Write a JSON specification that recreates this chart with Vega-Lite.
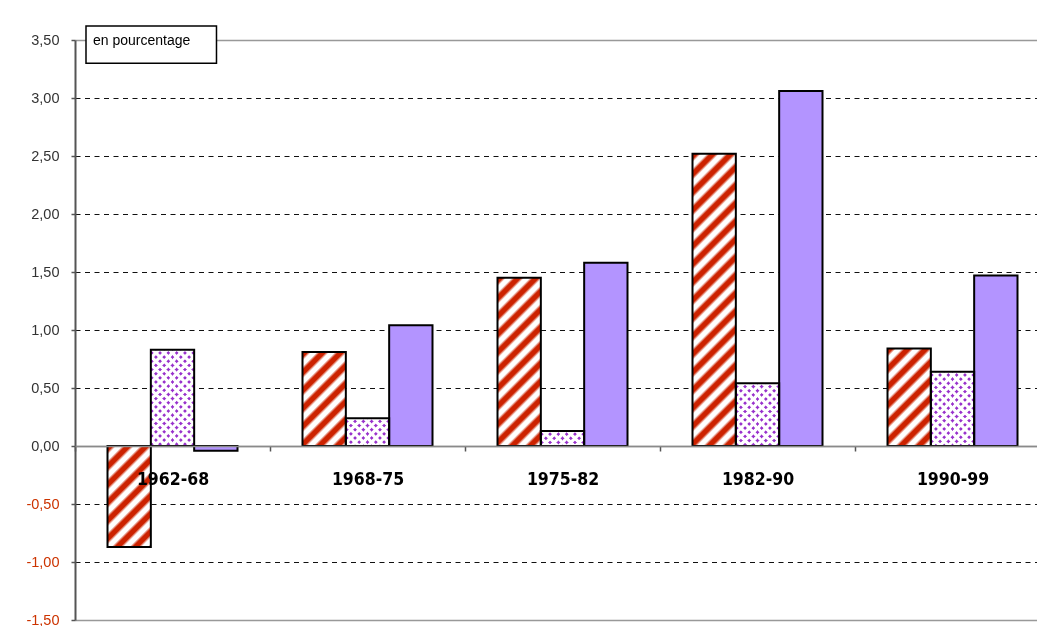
{
  "$schema": "https://vega.github.io/schema/vega-lite/v6.json",
  "width": 962,
  "height": 580,
  "autosize": {"type": "none"},
  "padding": {"left": 75, "top": 40, "right": 0, "bottom": 6},
  "background": "white",
  "config": {"view": {"stroke": null}},
  "data": {
    "values": [
      {"period": "1962-68", "series": "série 1", "value": -0.87},
      {"period": "1962-68", "series": "série 2", "value": 0.83},
      {"period": "1962-68", "series": "série 3", "value": -0.04},
      {"period": "1968-75", "series": "série 1", "value": 0.81},
      {"period": "1968-75", "series": "série 2", "value": 0.24},
      {"period": "1968-75", "series": "série 3", "value": 1.04},
      {"period": "1975-82", "series": "série 1", "value": 1.45},
      {"period": "1975-82", "series": "série 2", "value": 0.13},
      {"period": "1975-82", "series": "série 3", "value": 1.58},
      {"period": "1982-90", "series": "série 1", "value": 2.52},
      {"period": "1982-90", "series": "série 2", "value": 0.54},
      {"period": "1982-90", "series": "série 3", "value": 3.06},
      {"period": "1990-99", "series": "série 1", "value": 0.84},
      {"period": "1990-99", "series": "série 2", "value": 0.64},
      {"period": "1990-99", "series": "série 3", "value": 1.47}
    ]
  },
  "layer": [
    {
      "mark": {"type": "bar"},
      "encoding": {
        "x": {
          "field": "period", "type": "nominal",
          "scale": {"paddingInner": 0, "paddingOuter": 0, "range": [0, 975]},
          "axis": {
            "orient": "bottom", "offset": -174, "title": null, "labelAngle": 0,
            "domainColor": "#8a8a8a", "domainWidth": 1.5,
            "tickBand": "extent", "tickSize": 5, "tickColor": "#555", "tickWidth": 1.5,
            "labelFont": "DejaVu Sans Condensed, Liberation Sans", "labelFontSize": 17.5, "labelFontWeight": "bold",
            "labelColor": "#000", "labelPadding": 19, "grid": false, "zindex": 1
          }
        },
        "xOffset": {"field": "series", "type": "nominal", "scale": {"paddingInner": 0, "paddingOuter": 0.75}},
        "y": {
          "field": "value", "type": "quantitative",
          "scale": {"domain": [-1.5, 3.5], "nice": false},
          "axis": {
            "title": null,
            "values": [-1.5, -1, -0.5, 0, 0.5, 1, 1.5, 2, 2.5, 3, 3.5],
            "labelExpr": "replace(replace(format(datum.value, '.2f'), '.', ','), '\u2212', '-')",
            "labelFont": "Liberation Sans", "labelFontSize": 14.5,
            "labelColor": {"condition": {"test": "datum.value < 0", "value": "#CC3300"}, "value": "#333333"},
            "labelPadding": 12,
            "domainColor": "#555", "domainWidth": 2,
            "tickColor": "#555", "tickSize": 4, "tickWidth": 1.5,
            "grid": true,
            "gridColor": {"condition": {"test": "datum.value === 3.5 || datum.value === -1.5 || datum.value === 0", "value": "#999"}, "value": "#111"},
            "gridDash": {"condition": {"test": "datum.value === 3.5 || datum.value === -1.5 || datum.value === 0", "value": []}, "value": [5, 4.5]},
            "gridWidth": {"condition": {"test": "datum.value === 3.5 || datum.value === -1.5 || datum.value === 0", "value": 1.5}, "value": 1}
          }
        },
        "fill": {
          "condition": [
            {"test": "datum.series === 'série 3'", "value": "#B394FF"},
            {"test": "datum.series === 'série 2' && datum.period === '1962-68'", "value": {"gradient": "linear", "x1": 0, "y1": 0, "x2": 0.5483, "y2": 1.2185, "stops": [
              {"offset": 0.0118, "color": "#fff"}, {"offset": 0.0206, "color": "#93c"}, {"offset": 0.0382, "color": "#93c"}, {"offset": 0.0471, "color": "#fff"},
              {"offset": 0.0706, "color": "#fff"}, {"offset": 0.0794, "color": "#93c"}, {"offset": 0.0971, "color": "#93c"}, {"offset": 0.1059, "color": "#fff"},
              {"offset": 0.1294, "color": "#fff"}, {"offset": 0.1382, "color": "#93c"}, {"offset": 0.1559, "color": "#93c"}, {"offset": 0.1647, "color": "#fff"},
              {"offset": 0.1882, "color": "#fff"}, {"offset": 0.1971, "color": "#93c"}, {"offset": 0.2147, "color": "#93c"}, {"offset": 0.2235, "color": "#fff"},
              {"offset": 0.2471, "color": "#fff"}, {"offset": 0.2559, "color": "#93c"}, {"offset": 0.2735, "color": "#93c"}, {"offset": 0.2824, "color": "#fff"},
              {"offset": 0.3059, "color": "#fff"}, {"offset": 0.3147, "color": "#93c"}, {"offset": 0.3324, "color": "#93c"}, {"offset": 0.3412, "color": "#fff"},
              {"offset": 0.3647, "color": "#fff"}, {"offset": 0.3735, "color": "#93c"}, {"offset": 0.3912, "color": "#93c"}, {"offset": 0.4, "color": "#fff"},
              {"offset": 0.4235, "color": "#fff"}, {"offset": 0.4324, "color": "#93c"}, {"offset": 0.45, "color": "#93c"}, {"offset": 0.4588, "color": "#fff"},
              {"offset": 0.4824, "color": "#fff"}, {"offset": 0.4912, "color": "#93c"}, {"offset": 0.5088, "color": "#93c"}, {"offset": 0.5176, "color": "#fff"},
              {"offset": 0.5412, "color": "#fff"}, {"offset": 0.55, "color": "#93c"}, {"offset": 0.5676, "color": "#93c"}, {"offset": 0.5765, "color": "#fff"},
              {"offset": 0.6, "color": "#fff"}, {"offset": 0.6088, "color": "#93c"}, {"offset": 0.6265, "color": "#93c"}, {"offset": 0.6353, "color": "#fff"},
              {"offset": 0.6588, "color": "#fff"}, {"offset": 0.6676, "color": "#93c"}, {"offset": 0.6853, "color": "#93c"}, {"offset": 0.6941, "color": "#fff"},
              {"offset": 0.7176, "color": "#fff"}, {"offset": 0.7265, "color": "#93c"}, {"offset": 0.7441, "color": "#93c"}, {"offset": 0.7529, "color": "#fff"},
              {"offset": 0.7765, "color": "#fff"}, {"offset": 0.7853, "color": "#93c"}, {"offset": 0.8029, "color": "#93c"}, {"offset": 0.8118, "color": "#fff"},
              {"offset": 0.8353, "color": "#fff"}, {"offset": 0.8441, "color": "#93c"}, {"offset": 0.8618, "color": "#93c"}, {"offset": 0.8706, "color": "#fff"},
              {"offset": 0.8941, "color": "#fff"}, {"offset": 0.9029, "color": "#93c"}, {"offset": 0.9206, "color": "#93c"}, {"offset": 0.9294, "color": "#fff"},
              {"offset": 0.9529, "color": "#fff"}, {"offset": 0.9618, "color": "#93c"}, {"offset": 0.9794, "color": "#93c"}, {"offset": 0.9882, "color": "#fff"}
            ]}},
            {"test": "datum.series === 'série 2' && datum.period === '1968-75'", "value": {"gradient": "linear", "x1": 0, "y1": 0, "x2": 1.2202, "y2": 0.784, "stops": [
              {"offset": 0.0222, "color": "#fff"}, {"offset": 0.0389, "color": "#93c"}, {"offset": 0.0722, "color": "#93c"}, {"offset": 0.0889, "color": "#fff"},
              {"offset": 0.1333, "color": "#fff"}, {"offset": 0.15, "color": "#93c"}, {"offset": 0.1833, "color": "#93c"}, {"offset": 0.2, "color": "#fff"},
              {"offset": 0.2444, "color": "#fff"}, {"offset": 0.2611, "color": "#93c"}, {"offset": 0.2944, "color": "#93c"}, {"offset": 0.3111, "color": "#fff"},
              {"offset": 0.3556, "color": "#fff"}, {"offset": 0.3722, "color": "#93c"}, {"offset": 0.4056, "color": "#93c"}, {"offset": 0.4222, "color": "#fff"},
              {"offset": 0.4667, "color": "#fff"}, {"offset": 0.4833, "color": "#93c"}, {"offset": 0.5167, "color": "#93c"}, {"offset": 0.5333, "color": "#fff"},
              {"offset": 0.5778, "color": "#fff"}, {"offset": 0.5944, "color": "#93c"}, {"offset": 0.6278, "color": "#93c"}, {"offset": 0.6444, "color": "#fff"},
              {"offset": 0.6889, "color": "#fff"}, {"offset": 0.7056, "color": "#93c"}, {"offset": 0.7389, "color": "#93c"}, {"offset": 0.7556, "color": "#fff"},
              {"offset": 0.8, "color": "#fff"}, {"offset": 0.8167, "color": "#93c"}, {"offset": 0.85, "color": "#93c"}, {"offset": 0.8667, "color": "#fff"},
              {"offset": 0.9111, "color": "#fff"}, {"offset": 0.9278, "color": "#93c"}, {"offset": 0.9611, "color": "#93c"}, {"offset": 0.9778, "color": "#fff"}
            ]}},
            {"test": "datum.series === 'série 2' && datum.period === '1975-82'", "value": {"gradient": "linear", "x1": 0, "y1": 0, "x2": 1.3669, "y2": 0.4757, "stops": [
              {"offset": 0.025, "color": "#fff"}, {"offset": 0.0438, "color": "#93c"}, {"offset": 0.0813, "color": "#93c"}, {"offset": 0.1, "color": "#fff"},
              {"offset": 0.15, "color": "#fff"}, {"offset": 0.1688, "color": "#93c"}, {"offset": 0.2063, "color": "#93c"}, {"offset": 0.225, "color": "#fff"},
              {"offset": 0.275, "color": "#fff"}, {"offset": 0.2938, "color": "#93c"}, {"offset": 0.3313, "color": "#93c"}, {"offset": 0.35, "color": "#fff"},
              {"offset": 0.4, "color": "#fff"}, {"offset": 0.4188, "color": "#93c"}, {"offset": 0.4563, "color": "#93c"}, {"offset": 0.475, "color": "#fff"},
              {"offset": 0.525, "color": "#fff"}, {"offset": 0.5438, "color": "#93c"}, {"offset": 0.5813, "color": "#93c"}, {"offset": 0.6, "color": "#fff"},
              {"offset": 0.65, "color": "#fff"}, {"offset": 0.6688, "color": "#93c"}, {"offset": 0.7063, "color": "#93c"}, {"offset": 0.725, "color": "#fff"},
              {"offset": 0.775, "color": "#fff"}, {"offset": 0.7938, "color": "#93c"}, {"offset": 0.8313, "color": "#93c"}, {"offset": 0.85, "color": "#fff"},
              {"offset": 0.9, "color": "#fff"}, {"offset": 0.9188, "color": "#93c"}, {"offset": 0.9563, "color": "#93c"}, {"offset": 0.975, "color": "#fff"}
            ]}},
            {"test": "datum.series === 'série 2' && datum.period === '1982-90'", "value": {"gradient": "linear", "x1": 0, "y1": 0, "x2": 0.8059, "y2": 1.165, "stops": [
              {"offset": 0.0154, "color": "#fff"}, {"offset": 0.0269, "color": "#93c"}, {"offset": 0.05, "color": "#93c"}, {"offset": 0.0615, "color": "#fff"},
              {"offset": 0.0923, "color": "#fff"}, {"offset": 0.1038, "color": "#93c"}, {"offset": 0.1269, "color": "#93c"}, {"offset": 0.1385, "color": "#fff"},
              {"offset": 0.1692, "color": "#fff"}, {"offset": 0.1808, "color": "#93c"}, {"offset": 0.2038, "color": "#93c"}, {"offset": 0.2154, "color": "#fff"},
              {"offset": 0.2462, "color": "#fff"}, {"offset": 0.2577, "color": "#93c"}, {"offset": 0.2808, "color": "#93c"}, {"offset": 0.2923, "color": "#fff"},
              {"offset": 0.3231, "color": "#fff"}, {"offset": 0.3346, "color": "#93c"}, {"offset": 0.3577, "color": "#93c"}, {"offset": 0.3692, "color": "#fff"},
              {"offset": 0.4, "color": "#fff"}, {"offset": 0.4115, "color": "#93c"}, {"offset": 0.4346, "color": "#93c"}, {"offset": 0.4462, "color": "#fff"},
              {"offset": 0.4769, "color": "#fff"}, {"offset": 0.4885, "color": "#93c"}, {"offset": 0.5115, "color": "#93c"}, {"offset": 0.5231, "color": "#fff"},
              {"offset": 0.5538, "color": "#fff"}, {"offset": 0.5654, "color": "#93c"}, {"offset": 0.5885, "color": "#93c"}, {"offset": 0.6, "color": "#fff"},
              {"offset": 0.6308, "color": "#fff"}, {"offset": 0.6423, "color": "#93c"}, {"offset": 0.6654, "color": "#93c"}, {"offset": 0.6769, "color": "#fff"},
              {"offset": 0.7077, "color": "#fff"}, {"offset": 0.7192, "color": "#93c"}, {"offset": 0.7423, "color": "#93c"}, {"offset": 0.7538, "color": "#fff"},
              {"offset": 0.7846, "color": "#fff"}, {"offset": 0.7962, "color": "#93c"}, {"offset": 0.8192, "color": "#93c"}, {"offset": 0.8308, "color": "#fff"},
              {"offset": 0.8615, "color": "#fff"}, {"offset": 0.8731, "color": "#93c"}, {"offset": 0.8962, "color": "#93c"}, {"offset": 0.9077, "color": "#fff"},
              {"offset": 0.9385, "color": "#fff"}, {"offset": 0.95, "color": "#93c"}, {"offset": 0.9731, "color": "#93c"}, {"offset": 0.9846, "color": "#fff"}
            ]}},
            {"test": "datum.series === 'série 2'", "value": {"gradient": "linear", "x1": 0, "y1": 0, "x2": 0.7301, "y2": 1.2509, "stops": [
              {"offset": 0.0133, "color": "#fff"}, {"offset": 0.0233, "color": "#93c"}, {"offset": 0.0433, "color": "#93c"}, {"offset": 0.0533, "color": "#fff"},
              {"offset": 0.08, "color": "#fff"}, {"offset": 0.09, "color": "#93c"}, {"offset": 0.11, "color": "#93c"}, {"offset": 0.12, "color": "#fff"},
              {"offset": 0.1467, "color": "#fff"}, {"offset": 0.1567, "color": "#93c"}, {"offset": 0.1767, "color": "#93c"}, {"offset": 0.1867, "color": "#fff"},
              {"offset": 0.2133, "color": "#fff"}, {"offset": 0.2233, "color": "#93c"}, {"offset": 0.2433, "color": "#93c"}, {"offset": 0.2533, "color": "#fff"},
              {"offset": 0.28, "color": "#fff"}, {"offset": 0.29, "color": "#93c"}, {"offset": 0.31, "color": "#93c"}, {"offset": 0.32, "color": "#fff"},
              {"offset": 0.3467, "color": "#fff"}, {"offset": 0.3567, "color": "#93c"}, {"offset": 0.3767, "color": "#93c"}, {"offset": 0.3867, "color": "#fff"},
              {"offset": 0.4133, "color": "#fff"}, {"offset": 0.4233, "color": "#93c"}, {"offset": 0.4433, "color": "#93c"}, {"offset": 0.4533, "color": "#fff"},
              {"offset": 0.48, "color": "#fff"}, {"offset": 0.49, "color": "#93c"}, {"offset": 0.51, "color": "#93c"}, {"offset": 0.52, "color": "#fff"},
              {"offset": 0.5467, "color": "#fff"}, {"offset": 0.5567, "color": "#93c"}, {"offset": 0.5767, "color": "#93c"}, {"offset": 0.5867, "color": "#fff"},
              {"offset": 0.6133, "color": "#fff"}, {"offset": 0.6233, "color": "#93c"}, {"offset": 0.6433, "color": "#93c"}, {"offset": 0.6533, "color": "#fff"},
              {"offset": 0.68, "color": "#fff"}, {"offset": 0.69, "color": "#93c"}, {"offset": 0.71, "color": "#93c"}, {"offset": 0.72, "color": "#fff"},
              {"offset": 0.7467, "color": "#fff"}, {"offset": 0.7567, "color": "#93c"}, {"offset": 0.7767, "color": "#93c"}, {"offset": 0.7867, "color": "#fff"},
              {"offset": 0.8133, "color": "#fff"}, {"offset": 0.8233, "color": "#93c"}, {"offset": 0.8433, "color": "#93c"}, {"offset": 0.8533, "color": "#fff"},
              {"offset": 0.88, "color": "#fff"}, {"offset": 0.89, "color": "#93c"}, {"offset": 0.91, "color": "#93c"}, {"offset": 0.92, "color": "#fff"},
              {"offset": 0.9467, "color": "#fff"}, {"offset": 0.9567, "color": "#93c"}, {"offset": 0.9767, "color": "#93c"}, {"offset": 0.9867, "color": "#fff"}
            ]}},
            {"test": "datum.period === '1962-68'", "value": {"gradient": "linear", "x1": 0, "y1": 0, "x2": 0.5821, "y2": 1.3556, "stops": [
              {"offset": 0, "color": "#c20"}, {"offset": 0.0333, "color": "#c20"}, {"offset": 0.0556, "color": "#fff"}, {"offset": 0.0889, "color": "#fff"},
              {"offset": 0.1111, "color": "#c20"}, {"offset": 0.1444, "color": "#c20"}, {"offset": 0.1667, "color": "#fff"}, {"offset": 0.2, "color": "#fff"},
              {"offset": 0.2222, "color": "#c20"}, {"offset": 0.2556, "color": "#c20"}, {"offset": 0.2778, "color": "#fff"}, {"offset": 0.3111, "color": "#fff"},
              {"offset": 0.3333, "color": "#c20"}, {"offset": 0.3667, "color": "#c20"}, {"offset": 0.3889, "color": "#fff"}, {"offset": 0.4222, "color": "#fff"},
              {"offset": 0.4444, "color": "#c20"}, {"offset": 0.4778, "color": "#c20"}, {"offset": 0.5, "color": "#fff"}, {"offset": 0.5333, "color": "#fff"},
              {"offset": 0.5556, "color": "#c20"}, {"offset": 0.5889, "color": "#c20"}, {"offset": 0.6111, "color": "#fff"}, {"offset": 0.6444, "color": "#fff"},
              {"offset": 0.6667, "color": "#c20"}, {"offset": 0.7, "color": "#c20"}, {"offset": 0.7222, "color": "#fff"}, {"offset": 0.7556, "color": "#fff"},
              {"offset": 0.7778, "color": "#c20"}, {"offset": 0.8111, "color": "#c20"}, {"offset": 0.8333, "color": "#fff"}, {"offset": 0.8667, "color": "#fff"},
              {"offset": 0.8889, "color": "#c20"}, {"offset": 0.9222, "color": "#c20"}, {"offset": 0.9444, "color": "#fff"}, {"offset": 0.9778, "color": "#fff"},
              {"offset": 1, "color": "#c20"}
            ]}},
            {"test": "datum.period === '1968-75'", "value": {"gradient": "linear", "x1": 0, "y1": 0, "x2": 0.5824, "y2": 1.2634, "stops": [
              {"offset": 0, "color": "#c20"}, {"offset": 0.0375, "color": "#c20"}, {"offset": 0.0625, "color": "#fff"}, {"offset": 0.1, "color": "#fff"},
              {"offset": 0.125, "color": "#c20"}, {"offset": 0.1625, "color": "#c20"}, {"offset": 0.1875, "color": "#fff"}, {"offset": 0.225, "color": "#fff"},
              {"offset": 0.25, "color": "#c20"}, {"offset": 0.2875, "color": "#c20"}, {"offset": 0.3125, "color": "#fff"}, {"offset": 0.35, "color": "#fff"},
              {"offset": 0.375, "color": "#c20"}, {"offset": 0.4125, "color": "#c20"}, {"offset": 0.4375, "color": "#fff"}, {"offset": 0.475, "color": "#fff"},
              {"offset": 0.5, "color": "#c20"}, {"offset": 0.5375, "color": "#c20"}, {"offset": 0.5625, "color": "#fff"}, {"offset": 0.6, "color": "#fff"},
              {"offset": 0.625, "color": "#c20"}, {"offset": 0.6625, "color": "#c20"}, {"offset": 0.6875, "color": "#fff"}, {"offset": 0.725, "color": "#fff"},
              {"offset": 0.75, "color": "#c20"}, {"offset": 0.7875, "color": "#c20"}, {"offset": 0.8125, "color": "#fff"}, {"offset": 0.85, "color": "#fff"},
              {"offset": 0.875, "color": "#c20"}, {"offset": 0.9125, "color": "#c20"}, {"offset": 0.9375, "color": "#fff"}, {"offset": 0.975, "color": "#fff"},
              {"offset": 1, "color": "#c20"}
            ]}},
            {"test": "datum.period === '1975-82'", "value": {"gradient": "linear", "x1": 0, "y1": 0, "x2": 0.3102, "y2": 1.2043, "stops": [
              {"offset": 0, "color": "#c20"}, {"offset": 0.025, "color": "#c20"}, {"offset": 0.0417, "color": "#fff"}, {"offset": 0.0667, "color": "#fff"},
              {"offset": 0.0833, "color": "#c20"}, {"offset": 0.1083, "color": "#c20"}, {"offset": 0.125, "color": "#fff"}, {"offset": 0.15, "color": "#fff"},
              {"offset": 0.1667, "color": "#c20"}, {"offset": 0.1917, "color": "#c20"}, {"offset": 0.2083, "color": "#fff"}, {"offset": 0.2333, "color": "#fff"},
              {"offset": 0.25, "color": "#c20"}, {"offset": 0.275, "color": "#c20"}, {"offset": 0.2917, "color": "#fff"}, {"offset": 0.3167, "color": "#fff"},
              {"offset": 0.3333, "color": "#c20"}, {"offset": 0.3583, "color": "#c20"}, {"offset": 0.375, "color": "#fff"}, {"offset": 0.4, "color": "#fff"},
              {"offset": 0.4167, "color": "#c20"}, {"offset": 0.4417, "color": "#c20"}, {"offset": 0.4583, "color": "#fff"}, {"offset": 0.4833, "color": "#fff"},
              {"offset": 0.5, "color": "#c20"}, {"offset": 0.525, "color": "#c20"}, {"offset": 0.5417, "color": "#fff"}, {"offset": 0.5667, "color": "#fff"},
              {"offset": 0.5833, "color": "#c20"}, {"offset": 0.6083, "color": "#c20"}, {"offset": 0.625, "color": "#fff"}, {"offset": 0.65, "color": "#fff"},
              {"offset": 0.6667, "color": "#c20"}, {"offset": 0.6917, "color": "#c20"}, {"offset": 0.7083, "color": "#fff"}, {"offset": 0.7333, "color": "#fff"},
              {"offset": 0.75, "color": "#c20"}, {"offset": 0.775, "color": "#c20"}, {"offset": 0.7917, "color": "#fff"}, {"offset": 0.8167, "color": "#fff"},
              {"offset": 0.8333, "color": "#c20"}, {"offset": 0.8583, "color": "#c20"}, {"offset": 0.875, "color": "#fff"}, {"offset": 0.9, "color": "#fff"},
              {"offset": 0.9167, "color": "#c20"}, {"offset": 0.9417, "color": "#c20"}, {"offset": 0.9583, "color": "#fff"}, {"offset": 0.9833, "color": "#fff"},
              {"offset": 1, "color": "#c20"}
            ]}},
            {"test": "datum.period === '1982-90'", "value": {"gradient": "linear", "x1": 0, "y1": 0, "x2": 0.1697, "y2": 1.1449, "stops": [
              {"offset": 0, "color": "#c20"}, {"offset": 0.0158, "color": "#c20"}, {"offset": 0.0263, "color": "#fff"}, {"offset": 0.0421, "color": "#fff"},
              {"offset": 0.0526, "color": "#c20"}, {"offset": 0.0684, "color": "#c20"}, {"offset": 0.0789, "color": "#fff"}, {"offset": 0.0947, "color": "#fff"},
              {"offset": 0.1053, "color": "#c20"}, {"offset": 0.1211, "color": "#c20"}, {"offset": 0.1316, "color": "#fff"}, {"offset": 0.1474, "color": "#fff"},
              {"offset": 0.1579, "color": "#c20"}, {"offset": 0.1737, "color": "#c20"}, {"offset": 0.1842, "color": "#fff"}, {"offset": 0.2, "color": "#fff"},
              {"offset": 0.2105, "color": "#c20"}, {"offset": 0.2263, "color": "#c20"}, {"offset": 0.2368, "color": "#fff"}, {"offset": 0.2526, "color": "#fff"},
              {"offset": 0.2632, "color": "#c20"}, {"offset": 0.2789, "color": "#c20"}, {"offset": 0.2895, "color": "#fff"}, {"offset": 0.3053, "color": "#fff"},
              {"offset": 0.3158, "color": "#c20"}, {"offset": 0.3316, "color": "#c20"}, {"offset": 0.3421, "color": "#fff"}, {"offset": 0.3579, "color": "#fff"},
              {"offset": 0.3684, "color": "#c20"}, {"offset": 0.3842, "color": "#c20"}, {"offset": 0.3947, "color": "#fff"}, {"offset": 0.4105, "color": "#fff"},
              {"offset": 0.4211, "color": "#c20"}, {"offset": 0.4368, "color": "#c20"}, {"offset": 0.4474, "color": "#fff"}, {"offset": 0.4632, "color": "#fff"},
              {"offset": 0.4737, "color": "#c20"}, {"offset": 0.4895, "color": "#c20"}, {"offset": 0.5, "color": "#fff"}, {"offset": 0.5158, "color": "#fff"},
              {"offset": 0.5263, "color": "#c20"}, {"offset": 0.5421, "color": "#c20"}, {"offset": 0.5526, "color": "#fff"}, {"offset": 0.5684, "color": "#fff"},
              {"offset": 0.5789, "color": "#c20"}, {"offset": 0.5947, "color": "#c20"}, {"offset": 0.6053, "color": "#fff"}, {"offset": 0.6211, "color": "#fff"},
              {"offset": 0.6316, "color": "#c20"}, {"offset": 0.6474, "color": "#c20"}, {"offset": 0.6579, "color": "#fff"}, {"offset": 0.6737, "color": "#fff"},
              {"offset": 0.6842, "color": "#c20"}, {"offset": 0.7, "color": "#c20"}, {"offset": 0.7105, "color": "#fff"}, {"offset": 0.7263, "color": "#fff"},
              {"offset": 0.7368, "color": "#c20"}, {"offset": 0.7526, "color": "#c20"}, {"offset": 0.7632, "color": "#fff"}, {"offset": 0.7789, "color": "#fff"},
              {"offset": 0.7895, "color": "#c20"}, {"offset": 0.8053, "color": "#c20"}, {"offset": 0.8158, "color": "#fff"}, {"offset": 0.8316, "color": "#fff"},
              {"offset": 0.8421, "color": "#c20"}, {"offset": 0.8579, "color": "#c20"}, {"offset": 0.8684, "color": "#fff"}, {"offset": 0.8842, "color": "#fff"},
              {"offset": 0.8947, "color": "#c20"}, {"offset": 0.9105, "color": "#c20"}, {"offset": 0.9211, "color": "#fff"}, {"offset": 0.9368, "color": "#fff"},
              {"offset": 0.9474, "color": "#c20"}, {"offset": 0.9632, "color": "#c20"}, {"offset": 0.9737, "color": "#fff"}, {"offset": 0.9895, "color": "#fff"},
              {"offset": 1, "color": "#c20"}
            ]}}
          ],
          "value": {"gradient": "linear", "x1": 0, "y1": 0, "x2": 0.549, "y2": 1.2342, "stops": [
            {"offset": 0, "color": "#c20"}, {"offset": 0.0375, "color": "#c20"}, {"offset": 0.0625, "color": "#fff"}, {"offset": 0.1, "color": "#fff"},
            {"offset": 0.125, "color": "#c20"}, {"offset": 0.1625, "color": "#c20"}, {"offset": 0.1875, "color": "#fff"}, {"offset": 0.225, "color": "#fff"},
            {"offset": 0.25, "color": "#c20"}, {"offset": 0.2875, "color": "#c20"}, {"offset": 0.3125, "color": "#fff"}, {"offset": 0.35, "color": "#fff"},
            {"offset": 0.375, "color": "#c20"}, {"offset": 0.4125, "color": "#c20"}, {"offset": 0.4375, "color": "#fff"}, {"offset": 0.475, "color": "#fff"},
            {"offset": 0.5, "color": "#c20"}, {"offset": 0.5375, "color": "#c20"}, {"offset": 0.5625, "color": "#fff"}, {"offset": 0.6, "color": "#fff"},
            {"offset": 0.625, "color": "#c20"}, {"offset": 0.6625, "color": "#c20"}, {"offset": 0.6875, "color": "#fff"}, {"offset": 0.725, "color": "#fff"},
            {"offset": 0.75, "color": "#c20"}, {"offset": 0.7875, "color": "#c20"}, {"offset": 0.8125, "color": "#fff"}, {"offset": 0.85, "color": "#fff"},
            {"offset": 0.875, "color": "#c20"}, {"offset": 0.9125, "color": "#c20"}, {"offset": 0.9375, "color": "#fff"}, {"offset": 0.975, "color": "#fff"},
            {"offset": 1, "color": "#c20"}
          ]}
        }
      }
    },
    {
      "transform": [{"filter": "datum.series === 'série 2'"}],
      "mark": {"type": "bar", "blend": "lighten"},
      "encoding": {
        "x": {"field": "period", "type": "nominal"},
        "xOffset": {"field": "series", "type": "nominal"},
        "y": {"field": "value", "type": "quantitative"},
        "fill": {
          "condition": [
            {"test": "datum.period === '1962-68'", "value": {"gradient": "linear", "x1": 1, "y1": 0, "x2": 0.4517, "y2": 1.2185, "stops": [
              {"offset": 0.0118, "color": "#fff"}, {"offset": 0.0206, "color": "#93c"}, {"offset": 0.0382, "color": "#93c"}, {"offset": 0.0471, "color": "#fff"},
              {"offset": 0.0706, "color": "#fff"}, {"offset": 0.0794, "color": "#93c"}, {"offset": 0.0971, "color": "#93c"}, {"offset": 0.1059, "color": "#fff"},
              {"offset": 0.1294, "color": "#fff"}, {"offset": 0.1382, "color": "#93c"}, {"offset": 0.1559, "color": "#93c"}, {"offset": 0.1647, "color": "#fff"},
              {"offset": 0.1882, "color": "#fff"}, {"offset": 0.1971, "color": "#93c"}, {"offset": 0.2147, "color": "#93c"}, {"offset": 0.2235, "color": "#fff"},
              {"offset": 0.2471, "color": "#fff"}, {"offset": 0.2559, "color": "#93c"}, {"offset": 0.2735, "color": "#93c"}, {"offset": 0.2824, "color": "#fff"},
              {"offset": 0.3059, "color": "#fff"}, {"offset": 0.3147, "color": "#93c"}, {"offset": 0.3324, "color": "#93c"}, {"offset": 0.3412, "color": "#fff"},
              {"offset": 0.3647, "color": "#fff"}, {"offset": 0.3735, "color": "#93c"}, {"offset": 0.3912, "color": "#93c"}, {"offset": 0.4, "color": "#fff"},
              {"offset": 0.4235, "color": "#fff"}, {"offset": 0.4324, "color": "#93c"}, {"offset": 0.45, "color": "#93c"}, {"offset": 0.4588, "color": "#fff"},
              {"offset": 0.4824, "color": "#fff"}, {"offset": 0.4912, "color": "#93c"}, {"offset": 0.5088, "color": "#93c"}, {"offset": 0.5176, "color": "#fff"},
              {"offset": 0.5412, "color": "#fff"}, {"offset": 0.55, "color": "#93c"}, {"offset": 0.5676, "color": "#93c"}, {"offset": 0.5765, "color": "#fff"},
              {"offset": 0.6, "color": "#fff"}, {"offset": 0.6088, "color": "#93c"}, {"offset": 0.6265, "color": "#93c"}, {"offset": 0.6353, "color": "#fff"},
              {"offset": 0.6588, "color": "#fff"}, {"offset": 0.6676, "color": "#93c"}, {"offset": 0.6853, "color": "#93c"}, {"offset": 0.6941, "color": "#fff"},
              {"offset": 0.7176, "color": "#fff"}, {"offset": 0.7265, "color": "#93c"}, {"offset": 0.7441, "color": "#93c"}, {"offset": 0.7529, "color": "#fff"},
              {"offset": 0.7765, "color": "#fff"}, {"offset": 0.7853, "color": "#93c"}, {"offset": 0.8029, "color": "#93c"}, {"offset": 0.8118, "color": "#fff"},
              {"offset": 0.8353, "color": "#fff"}, {"offset": 0.8441, "color": "#93c"}, {"offset": 0.8618, "color": "#93c"}, {"offset": 0.8706, "color": "#fff"},
              {"offset": 0.8941, "color": "#fff"}, {"offset": 0.9029, "color": "#93c"}, {"offset": 0.9206, "color": "#93c"}, {"offset": 0.9294, "color": "#fff"},
              {"offset": 0.9529, "color": "#fff"}, {"offset": 0.9618, "color": "#93c"}, {"offset": 0.9794, "color": "#93c"}, {"offset": 0.9882, "color": "#fff"}
            ]}},
            {"test": "datum.period === '1968-75'", "value": {"gradient": "linear", "x1": 1, "y1": 0, "x2": -0.2202, "y2": 0.784, "stops": [
              {"offset": 0.0222, "color": "#fff"}, {"offset": 0.0389, "color": "#93c"}, {"offset": 0.0722, "color": "#93c"}, {"offset": 0.0889, "color": "#fff"},
              {"offset": 0.1333, "color": "#fff"}, {"offset": 0.15, "color": "#93c"}, {"offset": 0.1833, "color": "#93c"}, {"offset": 0.2, "color": "#fff"},
              {"offset": 0.2444, "color": "#fff"}, {"offset": 0.2611, "color": "#93c"}, {"offset": 0.2944, "color": "#93c"}, {"offset": 0.3111, "color": "#fff"},
              {"offset": 0.3556, "color": "#fff"}, {"offset": 0.3722, "color": "#93c"}, {"offset": 0.4056, "color": "#93c"}, {"offset": 0.4222, "color": "#fff"},
              {"offset": 0.4667, "color": "#fff"}, {"offset": 0.4833, "color": "#93c"}, {"offset": 0.5167, "color": "#93c"}, {"offset": 0.5333, "color": "#fff"},
              {"offset": 0.5778, "color": "#fff"}, {"offset": 0.5944, "color": "#93c"}, {"offset": 0.6278, "color": "#93c"}, {"offset": 0.6444, "color": "#fff"},
              {"offset": 0.6889, "color": "#fff"}, {"offset": 0.7056, "color": "#93c"}, {"offset": 0.7389, "color": "#93c"}, {"offset": 0.7556, "color": "#fff"},
              {"offset": 0.8, "color": "#fff"}, {"offset": 0.8167, "color": "#93c"}, {"offset": 0.85, "color": "#93c"}, {"offset": 0.8667, "color": "#fff"},
              {"offset": 0.9111, "color": "#fff"}, {"offset": 0.9278, "color": "#93c"}, {"offset": 0.9611, "color": "#93c"}, {"offset": 0.9778, "color": "#fff"}
            ]}},
            {"test": "datum.period === '1975-82'", "value": {"gradient": "linear", "x1": 1, "y1": 0, "x2": -0.3669, "y2": 0.4757, "stops": [
              {"offset": 0.025, "color": "#fff"}, {"offset": 0.0438, "color": "#93c"}, {"offset": 0.0813, "color": "#93c"}, {"offset": 0.1, "color": "#fff"},
              {"offset": 0.15, "color": "#fff"}, {"offset": 0.1688, "color": "#93c"}, {"offset": 0.2063, "color": "#93c"}, {"offset": 0.225, "color": "#fff"},
              {"offset": 0.275, "color": "#fff"}, {"offset": 0.2938, "color": "#93c"}, {"offset": 0.3313, "color": "#93c"}, {"offset": 0.35, "color": "#fff"},
              {"offset": 0.4, "color": "#fff"}, {"offset": 0.4188, "color": "#93c"}, {"offset": 0.4563, "color": "#93c"}, {"offset": 0.475, "color": "#fff"},
              {"offset": 0.525, "color": "#fff"}, {"offset": 0.5438, "color": "#93c"}, {"offset": 0.5813, "color": "#93c"}, {"offset": 0.6, "color": "#fff"},
              {"offset": 0.65, "color": "#fff"}, {"offset": 0.6688, "color": "#93c"}, {"offset": 0.7063, "color": "#93c"}, {"offset": 0.725, "color": "#fff"},
              {"offset": 0.775, "color": "#fff"}, {"offset": 0.7938, "color": "#93c"}, {"offset": 0.8313, "color": "#93c"}, {"offset": 0.85, "color": "#fff"},
              {"offset": 0.9, "color": "#fff"}, {"offset": 0.9188, "color": "#93c"}, {"offset": 0.9563, "color": "#93c"}, {"offset": 0.975, "color": "#fff"}
            ]}},
            {"test": "datum.period === '1982-90'", "value": {"gradient": "linear", "x1": 1, "y1": 0, "x2": 0.1941, "y2": 1.165, "stops": [
              {"offset": 0.0154, "color": "#fff"}, {"offset": 0.0269, "color": "#93c"}, {"offset": 0.05, "color": "#93c"}, {"offset": 0.0615, "color": "#fff"},
              {"offset": 0.0923, "color": "#fff"}, {"offset": 0.1038, "color": "#93c"}, {"offset": 0.1269, "color": "#93c"}, {"offset": 0.1385, "color": "#fff"},
              {"offset": 0.1692, "color": "#fff"}, {"offset": 0.1808, "color": "#93c"}, {"offset": 0.2038, "color": "#93c"}, {"offset": 0.2154, "color": "#fff"},
              {"offset": 0.2462, "color": "#fff"}, {"offset": 0.2577, "color": "#93c"}, {"offset": 0.2808, "color": "#93c"}, {"offset": 0.2923, "color": "#fff"},
              {"offset": 0.3231, "color": "#fff"}, {"offset": 0.3346, "color": "#93c"}, {"offset": 0.3577, "color": "#93c"}, {"offset": 0.3692, "color": "#fff"},
              {"offset": 0.4, "color": "#fff"}, {"offset": 0.4115, "color": "#93c"}, {"offset": 0.4346, "color": "#93c"}, {"offset": 0.4462, "color": "#fff"},
              {"offset": 0.4769, "color": "#fff"}, {"offset": 0.4885, "color": "#93c"}, {"offset": 0.5115, "color": "#93c"}, {"offset": 0.5231, "color": "#fff"},
              {"offset": 0.5538, "color": "#fff"}, {"offset": 0.5654, "color": "#93c"}, {"offset": 0.5885, "color": "#93c"}, {"offset": 0.6, "color": "#fff"},
              {"offset": 0.6308, "color": "#fff"}, {"offset": 0.6423, "color": "#93c"}, {"offset": 0.6654, "color": "#93c"}, {"offset": 0.6769, "color": "#fff"},
              {"offset": 0.7077, "color": "#fff"}, {"offset": 0.7192, "color": "#93c"}, {"offset": 0.7423, "color": "#93c"}, {"offset": 0.7538, "color": "#fff"},
              {"offset": 0.7846, "color": "#fff"}, {"offset": 0.7962, "color": "#93c"}, {"offset": 0.8192, "color": "#93c"}, {"offset": 0.8308, "color": "#fff"},
              {"offset": 0.8615, "color": "#fff"}, {"offset": 0.8731, "color": "#93c"}, {"offset": 0.8962, "color": "#93c"}, {"offset": 0.9077, "color": "#fff"},
              {"offset": 0.9385, "color": "#fff"}, {"offset": 0.95, "color": "#93c"}, {"offset": 0.9731, "color": "#93c"}, {"offset": 0.9846, "color": "#fff"}
            ]}}
          ],
          "value": {"gradient": "linear", "x1": 1, "y1": 0, "x2": 0.2699, "y2": 1.2509, "stops": [
            {"offset": 0.0133, "color": "#fff"}, {"offset": 0.0233, "color": "#93c"}, {"offset": 0.0433, "color": "#93c"}, {"offset": 0.0533, "color": "#fff"},
            {"offset": 0.08, "color": "#fff"}, {"offset": 0.09, "color": "#93c"}, {"offset": 0.11, "color": "#93c"}, {"offset": 0.12, "color": "#fff"},
            {"offset": 0.1467, "color": "#fff"}, {"offset": 0.1567, "color": "#93c"}, {"offset": 0.1767, "color": "#93c"}, {"offset": 0.1867, "color": "#fff"},
            {"offset": 0.2133, "color": "#fff"}, {"offset": 0.2233, "color": "#93c"}, {"offset": 0.2433, "color": "#93c"}, {"offset": 0.2533, "color": "#fff"},
            {"offset": 0.28, "color": "#fff"}, {"offset": 0.29, "color": "#93c"}, {"offset": 0.31, "color": "#93c"}, {"offset": 0.32, "color": "#fff"},
            {"offset": 0.3467, "color": "#fff"}, {"offset": 0.3567, "color": "#93c"}, {"offset": 0.3767, "color": "#93c"}, {"offset": 0.3867, "color": "#fff"},
            {"offset": 0.4133, "color": "#fff"}, {"offset": 0.4233, "color": "#93c"}, {"offset": 0.4433, "color": "#93c"}, {"offset": 0.4533, "color": "#fff"},
            {"offset": 0.48, "color": "#fff"}, {"offset": 0.49, "color": "#93c"}, {"offset": 0.51, "color": "#93c"}, {"offset": 0.52, "color": "#fff"},
            {"offset": 0.5467, "color": "#fff"}, {"offset": 0.5567, "color": "#93c"}, {"offset": 0.5767, "color": "#93c"}, {"offset": 0.5867, "color": "#fff"},
            {"offset": 0.6133, "color": "#fff"}, {"offset": 0.6233, "color": "#93c"}, {"offset": 0.6433, "color": "#93c"}, {"offset": 0.6533, "color": "#fff"},
            {"offset": 0.68, "color": "#fff"}, {"offset": 0.69, "color": "#93c"}, {"offset": 0.71, "color": "#93c"}, {"offset": 0.72, "color": "#fff"},
            {"offset": 0.7467, "color": "#fff"}, {"offset": 0.7567, "color": "#93c"}, {"offset": 0.7767, "color": "#93c"}, {"offset": 0.7867, "color": "#fff"},
            {"offset": 0.8133, "color": "#fff"}, {"offset": 0.8233, "color": "#93c"}, {"offset": 0.8433, "color": "#93c"}, {"offset": 0.8533, "color": "#fff"},
            {"offset": 0.88, "color": "#fff"}, {"offset": 0.89, "color": "#93c"}, {"offset": 0.91, "color": "#93c"}, {"offset": 0.92, "color": "#fff"},
            {"offset": 0.9467, "color": "#fff"}, {"offset": 0.9567, "color": "#93c"}, {"offset": 0.9767, "color": "#93c"}, {"offset": 0.9867, "color": "#fff"}
          ]}
        }
      }
    },
    {
      "mark": {"type": "bar", "filled": false, "stroke": "#000", "strokeWidth": 2},
      "encoding": {
        "x": {"field": "period", "type": "nominal"},
        "xOffset": {"field": "series", "type": "nominal"},
        "y": {"field": "value", "type": "quantitative"}
      }
    },
    {
      "data": {"values": [{"label": "en pourcentage"}]},
      "mark": {"type": "rect", "fill": "#fff", "stroke": "#000", "strokeWidth": 1.5},
      "encoding": {
        "x": {"datum": "1962-68", "bandPosition": 0.0564},
        "x2": {"datum": "1962-68", "bandPosition": 0.7256},
        "y": {"datum": 3.62},
        "y2": {"datum": 3.30}
      }
    },
    {
      "data": {"values": [{"label": "en pourcentage"}]},
      "mark": {"type": "text", "align": "left", "baseline": "alphabetic", "font": "Liberation Sans", "fontSize": 14, "color": "#000"},
      "encoding": {
        "x": {"datum": "1962-68", "bandPosition": 0.0923},
        "y": {"datum": 3.457},
        "text": {"field": "label"}
      }
    }
  ]
}
